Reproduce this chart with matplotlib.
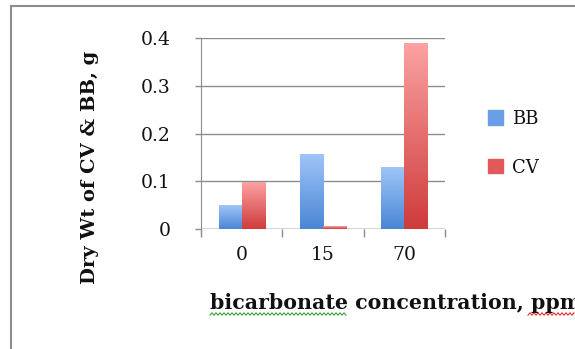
import matplotlib.pyplot as plt
import numpy as np
from matplotlib.colors import LinearSegmentedColormap
from matplotlib.patches import Rectangle

# dry weight (g) per bicarbonate level
concentrations = ["0", "15", "70"]
bb_weight = [0.05, 0.156, 0.129]
cv_weight = [0.098, 0.006, 0.39]
series_names = ["BB", "CV"]

grey = "#8c8c8c"
blue_grad = LinearSegmentedColormap.from_list("blue", ["#4a86d6", "#9fc5f8"])
red_grad = LinearSegmentedColormap.from_list("red", ["#cf3b3b", "#fba2a2"])

fig = plt.figure(figsize=(5.75, 3.49), dpi=100)
ax = fig.add_axes([0.3496, 0.3438, 0.4244, 0.5465])

x = np.arange(len(concentrations))
w = 0.283


def gradient_bars(xpos, heights, cmap, label):
    bars = ax.bar(xpos, heights, w, color="none", label=label, zorder=3)
    grad = np.linspace(0, 1, 256).reshape(-1, 1)
    for b in bars:
        x0, y0 = b.get_x(), b.get_y()
        ax.imshow(grad, cmap=cmap, origin="lower", aspect="auto",
                  extent=[x0, x0 + b.get_width(), y0, y0 + b.get_height()],
                  zorder=3)
    return bars


gradient_bars(x - w / 2, bb_weight, blue_grad, series_names[0])
gradient_bars(x + w / 2, cv_weight, red_grad, series_names[1])

ax.set_xlim(-0.5, 2.5)
ax.set_ylim(0, 0.4)
ax.set_yticks([0, 0.1, 0.2, 0.3, 0.4])
ax.set_yticklabels(["0", "0.1", "0.2", "0.3", "0.4"])
ax.set_xticks(x)
ax.set_xticklabels(concentrations)
ax.set_xticks([-0.5, 0.5, 1.5, 2.5], minor=True)

ax.grid(axis="y", color=grey, lw=1, zorder=1)
for s in ["top", "right", "bottom"]:
    ax.spines[s].set_visible(False)
ax.spines["left"].set_color(grey)
ax.axhline(0, color=grey, lw=1, zorder=2)

ax.tick_params(axis="x", which="major", length=0, pad=12)
ax.tick_params(axis="x", which="minor", length=6, color=grey, width=1)
ax.tick_params(axis="y", length=4, color=grey, width=1, pad=18)
for lab in ax.get_xticklabels() + ax.get_yticklabels():
    lab.set_family("DejaVu Serif")
    lab.set_fontsize(13.5)
    lab.set_color("#111111")

# axis titles
fig.text(0.157, 1 - 167 / 349, "Dry Wt of CV & BB, g", rotation=90,
         ha="center", va="center", family="DejaVu Serif",
         fontweight="bold", fontsize=14, color="#111111")
fig.text(210 / 575, 1 - 303 / 349, "bicarbonate concentration, ppm",
         ha="left", va="center", family="DejaVu Serif",
         fontweight="bold", fontsize=14.8, color="#111111")

# spell-check squiggles under the x title
def squiggle(x0, x1, y, color):
    xs = np.arange(x0, x1, 2.0)
    ys = y + np.where(np.arange(len(xs)) % 2 == 0, 1.2, -1.2)
    fig.add_artist(plt.Line2D(xs / 575, 1 - ys / 349, color=color, lw=0.8,
                              transform=fig.transFigure))


squiggle(210, 348, 314, "#3aa33a")
squiggle(528, 576, 314, "#e03030")

leg = ax.legend(handles=[Rectangle((0, 0), 1, 1, color="#6a9fe8"),
                         Rectangle((0, 0), 1, 1, color="#e05a5a")],
                labels=series_names, loc="center left",
                bbox_to_anchor=(1.11, 0.45), frameon=False,
                handlelength=0.85, handleheight=0.85, handletextpad=0.45,
                labelspacing=1.7, prop={"family": "DejaVu Serif", "size": 13})
for t in leg.get_texts():
    t.set_color("#111111")

# chart frame: only the left and top edges fall inside the image
fy = 1 - 6 / 349
fx = 11 / 575
fig.add_artist(plt.Line2D([fx, fx], [0, fy], color=grey, lw=1.5,
                          transform=fig.transFigure))
fig.add_artist(plt.Line2D([fx, 1.0], [fy, fy], color=grey, lw=1.5,
                          solid_capstyle="butt", transform=fig.transFigure))

fig.savefig("out.png", dpi=100)
